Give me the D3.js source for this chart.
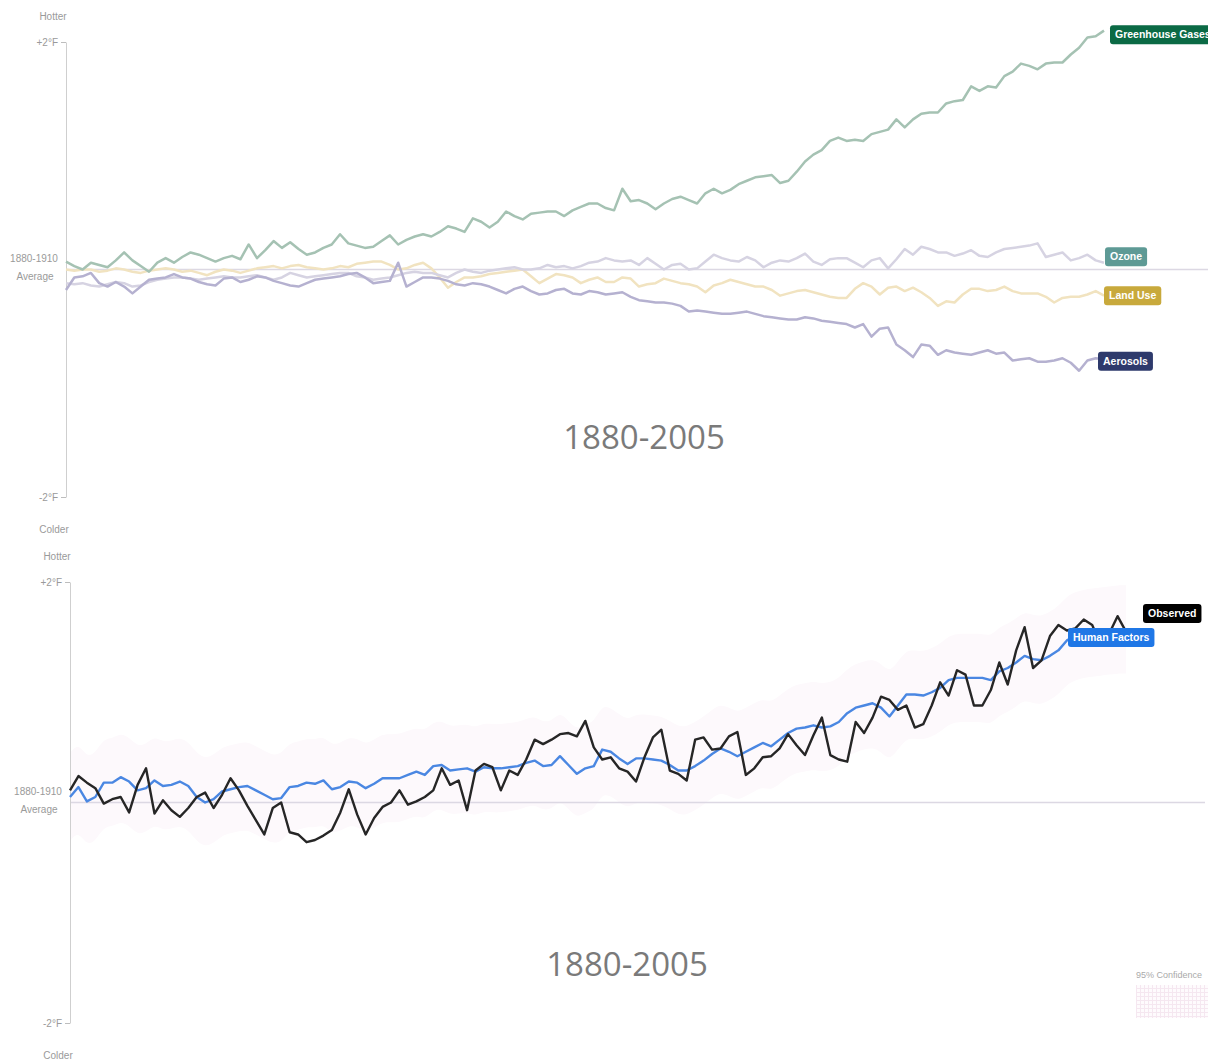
<!DOCTYPE html>
<html>
<head>
<meta charset="utf-8">
<style>
    body { margin: 0; background: #fff; overflow: hidden; }
    text { font-family: "Liberation Sans", Arial, sans-serif; }
    .side-label { fill: #9a9a9a; font-size: 10px; }
    .period { fill: #7a7a7a; font-family: "Open Sans", sans-serif; font-size: 33px; }
    .tag text { fill: #fff; font-size: 10.5px; font-weight: bold; }
</style>
</head>

<body>
    <div id="vizDiv"></div>

    <script src="https://d3js.org/d3.v7.min.js"></script>
    <script>
        // years on the x axis (one value per year, 1880-2005)
        const years = d3.range(1880, 2006);

        // top chart: temperature effect of each factor, °F vs 1880-1910 average
        const greenhouse = [
            0.07, 0.03, 0.00, 0.06, 0.04, 0.02, 0.08, 0.15, 0.08, 0.03,
            -0.02, 0.06, 0.10, 0.06, 0.11, 0.15, 0.13, 0.10, 0.07, 0.10,
            0.12, 0.09, 0.22, 0.10, 0.17, 0.25, 0.19, 0.24, 0.18, 0.13,
            0.15, 0.19, 0.22, 0.31, 0.23, 0.21, 0.19, 0.20, 0.25, 0.30,
            0.22, 0.26, 0.29, 0.31, 0.29, 0.33, 0.38, 0.36, 0.33, 0.45,
            0.42, 0.37, 0.42, 0.51, 0.47, 0.44, 0.49, 0.50, 0.51, 0.51,
            0.47, 0.52, 0.55, 0.58, 0.58, 0.54, 0.52, 0.71, 0.60, 0.61,
            0.58, 0.53, 0.58, 0.62, 0.64, 0.61, 0.58, 0.67, 0.71, 0.67,
            0.70, 0.75, 0.78, 0.81, 0.82, 0.83, 0.76, 0.78, 0.86, 0.95,
            1.01, 1.05, 1.13, 1.16, 1.13, 1.14, 1.13, 1.19, 1.21, 1.23,
            1.32, 1.25, 1.32, 1.37, 1.38, 1.38, 1.46, 1.48, 1.49, 1.61,
            1.57, 1.61, 1.60, 1.70, 1.74, 1.81, 1.79, 1.76, 1.81, 1.82,
            1.82, 1.89, 1.95, 2.04, 2.05, 2.10
        ];
        const ozone = [
            -0.12, -0.13, -0.12, -0.14, -0.15, -0.13, -0.11, -0.12, -0.15, -0.14,
            -0.11, -0.09, -0.08, -0.07, -0.07, -0.08, -0.09, -0.08, -0.07, -0.06,
            -0.07, -0.07, -0.06, -0.05, -0.07, -0.09, -0.07, -0.03, -0.05, -0.07,
            -0.06, -0.05, -0.04, -0.03, -0.03, -0.06, -0.07, -0.09, -0.08, -0.07,
            -0.05, -0.03, -0.02, -0.03, -0.03, -0.05, -0.07, -0.03, 0.00, -0.02,
            -0.03, -0.01, 0.00, 0.01, 0.02, 0.00, 0.00, 0.01, 0.04, 0.02,
            0.03, 0.01, 0.03, 0.06, 0.07, 0.10, 0.08, 0.07, 0.08, 0.04,
            0.10, 0.05, 0.00, 0.04, 0.05, 0.00, 0.01, 0.07, 0.13, 0.10,
            0.08, 0.07, 0.11, 0.08, 0.02, 0.06, 0.08, 0.07, 0.10, 0.14,
            0.07, 0.04, 0.09, 0.10, 0.10, 0.06, 0.02, 0.08, 0.10, 0.01,
            0.09, 0.18, 0.13, 0.20, 0.18, 0.15, 0.15, 0.12, 0.14, 0.17,
            0.12, 0.11, 0.15, 0.18, 0.19, 0.20, 0.21, 0.23, 0.11, 0.13,
            0.15, 0.08, 0.10, 0.13, 0.08, 0.06
        ];
        const landUse = [
            0.00, -0.01, 0.00, 0.00, -0.02, -0.01, 0.01, 0.00, -0.02, -0.03,
            -0.01, 0.00, 0.01, 0.00, -0.02, -0.01, -0.03, -0.05, -0.02, 0.00,
            -0.01, -0.03, -0.01, 0.01, 0.02, 0.03, 0.01, 0.03, 0.04, 0.02,
            0.01, 0.00, 0.01, 0.03, 0.02, 0.05, 0.06, 0.07, 0.07, 0.04,
            0.00, 0.01, 0.04, 0.06, 0.01, -0.07, -0.16, -0.11, -0.07, -0.07,
            -0.06, -0.04, -0.03, -0.02, -0.01, 0.00, -0.06, -0.12, -0.08, -0.04,
            -0.05, -0.07, -0.12, -0.09, -0.07, -0.11, -0.11, -0.07, -0.08, -0.15,
            -0.13, -0.12, -0.08, -0.10, -0.12, -0.13, -0.15, -0.20, -0.14, -0.12,
            -0.09, -0.11, -0.13, -0.15, -0.15, -0.18, -0.23, -0.21, -0.19, -0.18,
            -0.20, -0.22, -0.24, -0.25, -0.25, -0.17, -0.12, -0.15, -0.22, -0.16,
            -0.15, -0.19, -0.16, -0.20, -0.25, -0.32, -0.28, -0.29, -0.22, -0.17,
            -0.17, -0.19, -0.18, -0.15, -0.19, -0.21, -0.21, -0.21, -0.24, -0.29,
            -0.25, -0.24, -0.24, -0.22, -0.19, -0.23
        ];
        const aerosols = [
            -0.18, -0.07, -0.06, -0.03, -0.12, -0.15, -0.11, -0.15, -0.21, -0.15,
            -0.09, -0.08, -0.07, -0.04, -0.07, -0.08, -0.11, -0.13, -0.14, -0.08,
            -0.07, -0.11, -0.09, -0.06, -0.07, -0.10, -0.12, -0.14, -0.15, -0.12,
            -0.09, -0.08, -0.07, -0.06, -0.04, -0.03, -0.07, -0.12, -0.11, -0.10,
            0.06, -0.15, -0.11, -0.07, -0.07, -0.08, -0.10, -0.13, -0.14, -0.12,
            -0.13, -0.15, -0.18, -0.21, -0.17, -0.15, -0.19, -0.22, -0.21, -0.18,
            -0.17, -0.21, -0.22, -0.19, -0.20, -0.22, -0.21, -0.20, -0.24, -0.27,
            -0.28, -0.29, -0.29, -0.30, -0.32, -0.37, -0.36, -0.37, -0.38, -0.39,
            -0.39, -0.38, -0.37, -0.39, -0.41, -0.42, -0.43, -0.44, -0.44, -0.42,
            -0.43, -0.45, -0.46, -0.47, -0.48, -0.51, -0.48, -0.59, -0.52, -0.51,
            -0.66, -0.71, -0.77, -0.66, -0.67, -0.75, -0.71, -0.73, -0.74, -0.75,
            -0.73, -0.71, -0.74, -0.73, -0.80, -0.79, -0.78, -0.81, -0.81, -0.80,
            -0.78, -0.82, -0.89, -0.80, -0.78, -0.79
        ];

        // bottom chart: observed temperature vs the human-factors model
        const observed = [
            0.11, 0.24, 0.18, 0.13, -0.01, 0.03, 0.05, -0.09, 0.16, 0.31,
            -0.10, 0.02, -0.07, -0.13, -0.05, 0.05, 0.09, -0.05, 0.07, 0.22,
            0.11, -0.03, -0.16, -0.29, -0.05, 0.00, -0.27, -0.29, -0.36, -0.34,
            -0.30, -0.25, -0.09, 0.12, -0.11, -0.29, -0.14, -0.04, 0.00, 0.11,
            -0.02, 0.01, 0.05, 0.11, 0.31, 0.16, 0.20, -0.07, 0.29, 0.35,
            0.32, 0.11, 0.29, 0.25, 0.39, 0.57, 0.53, 0.57, 0.62, 0.63,
            0.60, 0.74, 0.50, 0.39, 0.41, 0.31, 0.28, 0.19, 0.41, 0.59,
            0.66, 0.29, 0.26, 0.20, 0.57, 0.59, 0.48, 0.49, 0.60, 0.64,
            0.25, 0.31, 0.41, 0.42, 0.49, 0.62, 0.52, 0.43, 0.61, 0.77,
            0.43, 0.39, 0.37, 0.73, 0.63, 0.77, 0.96, 0.93, 0.84, 0.88,
            0.68, 0.71, 0.88, 1.09, 0.97, 1.20, 1.16, 0.88, 0.88, 1.02,
            1.27, 1.07, 1.38, 1.59, 1.22, 1.29, 1.51, 1.61, 1.56, 1.58,
            1.66, 1.61, 1.43, 1.53, 1.69, 1.55
        ];
        const humanFactors = [
            0.05, 0.14, 0.01, 0.05, 0.18, 0.18, 0.23, 0.19, 0.11, 0.13,
            0.20, 0.15, 0.16, 0.19, 0.15, 0.05, 0.00, 0.03, 0.10, 0.12,
            0.14, 0.15, 0.11, 0.07, 0.03, 0.04, 0.14, 0.15, 0.18, 0.17,
            0.20, 0.12, 0.14, 0.19, 0.18, 0.13, 0.17, 0.22, 0.22, 0.22,
            0.25, 0.28, 0.25, 0.33, 0.34, 0.29, 0.30, 0.31, 0.28, 0.32,
            0.31, 0.31, 0.32, 0.33, 0.36, 0.38, 0.33, 0.34, 0.42, 0.34,
            0.26, 0.31, 0.33, 0.48, 0.46, 0.40, 0.35, 0.40, 0.40, 0.39,
            0.38, 0.34, 0.29, 0.29, 0.33, 0.38, 0.44, 0.49, 0.46, 0.42,
            0.46, 0.50, 0.54, 0.51, 0.57, 0.63, 0.67, 0.68, 0.70, 0.68,
            0.69, 0.73, 0.81, 0.86, 0.88, 0.90, 0.86, 0.78, 0.88, 0.98,
            0.98, 0.97, 1.00, 1.04, 1.11, 1.13, 1.13, 1.13, 1.13, 1.11,
            1.19, 1.22, 1.27, 1.33, 1.30, 1.29, 1.33, 1.38, 1.47, 1.51,
            1.53, 1.54, 1.55, 1.56, 1.57, 1.57
        ];
        // half width of the 95% confidence band around the model, °F
        const ciHalfWidth = 0.4;

        const yTicks = [2, -2];
        const periodLabel = "1880-2005";

        // create the svg
        const svg = d3.select("#vizDiv")
            .append("svg")
            .attr("width", 1208)
            .attr("height", 1061);

        const defs = svg.append("defs");
        const grid = defs.append("pattern")
            .attr("id", "ciGrid")
            .attr("width", 4).attr("height", 4)
            .attr("patternUnits", "userSpaceOnUse");
        grid.append("rect").attr("width", 4).attr("height", 4).attr("fill", "#fefbfd");
        grid.append("path").attr("d", "M0,0.5H4M0.5,0V4")
            .attr("stroke", "#f5e7f0").attr("stroke-width", 1);

        // scales
        const xTop = d3.scaleLinear().domain([1880, 2005]).range([66, 1104]);
        const yTop = d3.scaleLinear().domain([-2, 2]).range([497, 42]);
        const xBot = d3.scaleLinear().domain([1880, 2005]).range([70, 1126]);
        const yBot = d3.scaleLinear().domain([-2, 2]).range([1023, 582]);

        // y axis with hotter / colder / average labels
        function drawAxis(x0, y, zeroEnd) {
            // zero line
            svg.append("line")
                .attr("x1", x0).attr("x2", zeroEnd)
                .attr("y1", y(0)).attr("y2", y(0))
                .attr("stroke", "#dcd8e3").attr("stroke-width", 1.5);

            const g = svg.append("g")
                .attr("transform", `translate(${x0},0)`)
                .call(d3.axisLeft(y)
                    .tickValues(yTicks)
                    .tickFormat(d => (d > 0 ? "+" : "") + d + "°F")
                    .tickSize(5)
                    .tickSizeOuter(0)
                    .tickPadding(3));
            g.attr("font-family", null).attr("font-size", null);
            g.select(".domain").attr("stroke", "#cfcfcf");
            g.selectAll(".tick line").attr("stroke", "#bdbdbd");
            g.selectAll(".tick text").attr("class", "side-label");

            const side = [
                { t: "Hotter", x: x0 - 13, y: y(2) - 26 },
                { t: "Colder", x: x0 - 12, y: y(-2) + 32 },
                { t: "1880-1910", x: x0 - 32, y: y(0) - 11 },
                { t: "Average", x: x0 - 31, y: y(0) + 7 }
            ];
            svg.selectAll(null)
                .data(side)
                .enter()
                .append("text")
                .attr("class", "side-label")
                .attr("x", d => d.x)
                .attr("y", d => d.y)
                .attr("dy", "0.35em")
                .attr("text-anchor", "middle")
                .text(d => d.t);
        }

        // coloured name tag at the end of a line
        function addTag(x, yc, label, bg) {
            const g = svg.append("g").attr("class", "tag");
            const rect = g.append("rect").attr("rx", 3).attr("fill", bg);
            const txt = g.append("text")
                .attr("x", x + 5)
                .attr("y", yc)
                .attr("dy", "0.35em")
                .text(label);
            const w = txt.node().getComputedTextLength();
            rect.attr("x", x).attr("y", yc - 9.5)
                .attr("width", w + 10).attr("height", 19);
        }

        // ---------- top chart ----------
        drawAxis(66, yTop, 1208);

        const topSeries = [
            { name: "Land Use", values: landUse, stroke: "#f1e3c0", tag: "#c8a93c", dx: 0, dy: 0 },
            { name: "Ozone", values: ozone, stroke: "#d6d3e2", tag: "#5e9a95", dx: 1, dy: -6 },
            { name: "Aerosols", values: aerosols, stroke: "#b5b1d0", tag: "#2e3a6c", dx: -6, dy: 2 },
            { name: "Greenhouse Gases", values: greenhouse, stroke: "#a5c2b3", tag: "#0b6a45", dx: 6, dy: 4 }
        ];

        const lineTop = d3.line()
            .x((d, i) => xTop(years[i]))
            .y(d => yTop(d));

        svg.selectAll(".top-line")
            .data(topSeries)
            .enter()
            .append("path")
            .attr("class", "top-line")
            .attr("d", d => lineTop(d.values))
            .attr("fill", "none")
            .attr("stroke", d => d.stroke)
            .attr("stroke-width", 2.5)
            .attr("stroke-linejoin", "round");

        topSeries.forEach(s => {
            const last = s.values[s.values.length - 1];
            addTag(xTop(2005) + s.dx, yTop(last) + s.dy, s.name, s.tag);
        });

        svg.append("text")
            .attr("class", "period")
            .attr("x", 644).attr("y", 449)
            .attr("text-anchor", "middle")
            .text(periodLabel);

        // ---------- bottom chart ----------
        const band = d3.area()
            .x((d, i) => xBot(years[i]))
            .y0(d => yBot(d - ciHalfWidth))
            .y1(d => yBot(d + ciHalfWidth))
            .curve(d3.curveBasis);

        svg.append("path")
            .attr("d", band(humanFactors))
            .attr("fill", "#fdf9fc");

        drawAxis(70, yBot, 1205);

        const lineBot = d3.line()
            .x((d, i) => xBot(years[i]))
            .y(d => yBot(d));

        svg.append("path")
            .attr("d", lineBot(humanFactors))
            .attr("fill", "none")
            .attr("stroke", "#4a87e2")
            .attr("stroke-width", 2.4)
            .attr("stroke-linejoin", "round");

        svg.append("path")
            .attr("d", lineBot(observed))
            .attr("fill", "none")
            .attr("stroke", "#262626")
            .attr("stroke-width", 2.4)
            .attr("stroke-linejoin", "round");

        addTag(xBot(2005) + 17, yBot(observed[observed.length - 1]) - 18, "Observed", "#000");
        addTag(xBot(2005) - 58, yBot(humanFactors[humanFactors.length - 1]) + 8, "Human Factors", "#1f77e6");

        svg.append("text")
            .attr("class", "period")
            .attr("x", 627).attr("y", 976)
            .attr("text-anchor", "middle")
            .text(periodLabel);

        // confidence legend
        svg.append("text")
            .attr("x", 1136).attr("y", 975)
            .attr("dy", "0.35em")
            .attr("fill", "#aaa")
            .style("font-size", "9px")
            .text("95% Confidence");
        svg.append("rect")
            .attr("x", 1136).attr("y", 985)
            .attr("width", 72).attr("height", 33)
            .attr("fill", "url(#ciGrid)");
    </script>
</body>

</html>
